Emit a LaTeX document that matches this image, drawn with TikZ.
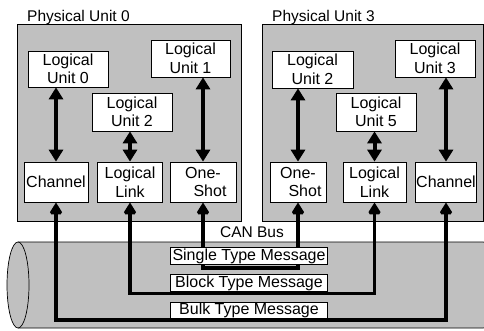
\documentclass[tikz,border=0pt]{standalone}
\usepackage{fontspec}
\setmainfont{Liberation Sans}
\usetikzlibrary{arrows.meta}

\definecolor{unitgray}{RGB}{192,192,192}

\begin{document}
\begin{tikzpicture}[x=1pt,y=-1pt]

\tikzstyle{unit} = [draw, fill=unitgray, line width=.7pt];
\tikzstyle{block} = [
	draw, fill=white, rectangle, line width=.7pt, inner sep=1pt,
	align=center, font=\fontsize{16}{18.5}\selectfont ];
\tikzstyle{msg} = [
	draw, fill=white, rectangle, line width=.7pt, inner sep=0pt,
	minimum width=157pt, minimum height=16.5pt,
	font=\fontsize{16}{16}\selectfont ];
\tikzstyle{plain} = [draw=none, fill=none, inner sep=0pt,
	font=\fontsize{15.5}{18}\selectfont];
\tikzstyle{link} = [line width=4pt,
	{Triangle[length=12pt,width=14pt]}-{Triangle[length=12pt,width=14pt]}];
\tikzstyle{bus} = [line width=3.5pt, miter limit=2,
	{Triangle[length=12pt,width=14pt]}-{Triangle[length=12pt,width=14pt]}];
\useasboundingbox (0,0) rectangle (484,330);

% physical units
\draw[unit] (17,24) rectangle (241,221);
\draw[unit] (262,24) rectangle (483.5,221);
\node[plain,anchor=base west] (pu0) at (27,21) {Physical Unit 0};
\node[plain,anchor=base west] (pu3) at (272,21) {Physical Unit 3};

% CAN bus
\draw[fill=unitgray, line width=.7pt, rounded corners=6pt]
	(18,242) -- (489,242) -- (489,328) -- (18,328);
\draw[fill=unitgray, line width=.7pt] (18,285) ellipse (11 and 43);
\node[plain] (can) at (252,232) {CAN Bus};

% physical unit 0
\node[block, minimum width=80pt, minimum height=36pt] (lu0) at (68,69) {Logical\\Unit 0};
\node[block, minimum width=79pt, minimum height=37pt] (lu1) at (190.5,58.5) {Logical\\Unit 1};
\node[block, minimum width=80pt, minimum height=38pt] (lu2) at (132,112) {Logical\\Unit 2};
\node[block, minimum width=64pt, minimum height=40pt] (ch0) at (56,182) {Channel};
\node[block, minimum width=65pt, minimum height=40pt] (ll0) at (130,182) {Logical\\Link};
\node[block, minimum width=66pt, minimum height=40pt] (os0) at (203,182) {One-\\\hspace*{14pt}Shot};

% physical unit 3
\node[block, minimum width=81pt, minimum height=37pt] (lu2b) at (312.5,69.5) {Logical\\Unit 2};
\node[block, minimum width=80pt, minimum height=37pt] (lu3) at (435,58.5) {Logical\\Unit 3};
\node[block, minimum width=80pt, minimum height=38pt] (lu5) at (376,112) {Logical\\Unit 5};
\node[block, minimum width=56pt, minimum height=40pt] (os3) at (298,182) {One-\\\hspace*{14pt}Shot};
\node[block, minimum width=63pt, minimum height=40pt] (ll3) at (374.5,182) {Logical\\Link};
\node[block, minimum width=58pt, minimum height=40pt] (ch3) at (446,182) {Channel};

% links inside the units
\draw[link] (lu0.south -| ch0.north) -- (ch0.north);
\draw[link] (lu2.south -| ll0.north) -- (ll0.north);
\draw[link] (lu1.south -| os0.north) -- (os0.north);
\draw[link] (lu2b.south -| os3.north) -- (os3.north);
\draw[link] (lu5.south -| ll3.north) -- (ll3.north);
\draw[link] (lu3.south -| ch3.north) -- (ch3.north);

% messages on the bus
\coordinate (single) at (250,268);
\coordinate (block) at (250,293.5);
\coordinate (bulk) at (250,320);
\draw[bus] (os0.south) |- (single) -| (os3.south);
\draw[bus] (ll0.south) |- (block) -| (ll3.south);
\draw[bus] (ch0.south) |- (bulk) -| (ch3.south);

\node[msg] (m1) at (249,256) {Single Type Message};
\node[msg] (m2) at (249,283) {Block Type Message};
\node[msg] (m3) at (249,310.5) {Bulk Type Message};

\end{tikzpicture}
\end{document}
